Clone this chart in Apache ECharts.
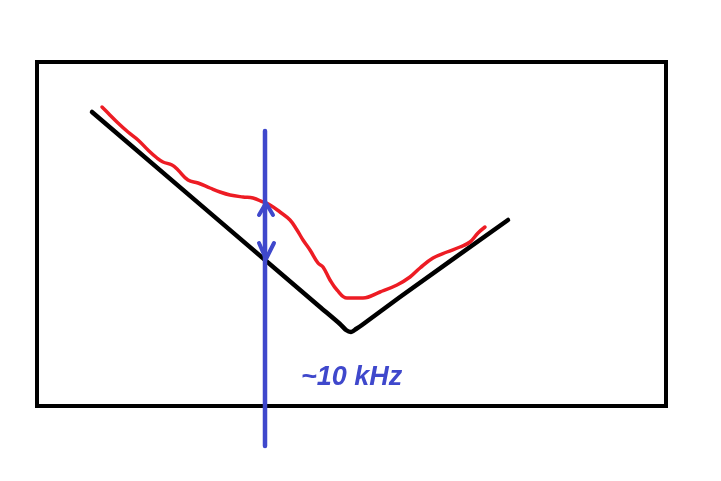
<!DOCTYPE html>
<html>
<head>
<meta charset="utf-8">
<script src="https://cdn.jsdelivr.net/npm/echarts@6/dist/echarts.min.js"></script>
<style>html,body{margin:0;padding:0;background:#fff;}#c{width:721px;height:481px;}</style>
</head>
<body>
<div id="c"></div>
<script>
// Sketch coordinates (x to the right, y downward)
const blackLine = [[92,112],[320,307],[340,324],[346,330],[351,332],[356,329],[362,325],[400,297],[508,220]];
const redLine = [[102,107],[108,113],[118,123],[128,132],[138,140],[148,150],[157,158],[163,162],[172,165],[178,170],[188,180],[198,183],[210,188],[220,192],[230,195],[243,197],[253,198],[263,202],[270,205],[280,212],[290,220],[297,230],[303,240],[310,250],[318,263],[323,267],[330,280],[337,290],[347,298],[363,298],[380,292],[397,285],[410,277],[420,268],[433,258],[447,252],[460,247],[470,242],[478,233],[485,227]];
const markerLine = [[265,131],[265,446]];
const arrowUp = [[259,215],[266,203],[273,215]];
const arrowDown = [[259,243],[266,259],[274,243]];
const labelText = '~10 kHz';

const chart = echarts.init(document.getElementById('c'), null, {renderer:'canvas'});
const lineSeries = (data, color, width, smooth) => ({
  type:'line', data, symbol:'none', smooth, clip:false, silent:true, animation:false,
  lineStyle:{color, width, cap:'round', join:'round'}
});
chart.setOption({
  backgroundColor:'#ffffff',
  animation:false,
  grid:{left:37, top:62, width:629, height:344, show:true, borderColor:'#000000', borderWidth:4, backgroundColor:'transparent'},
  xAxis:{type:'value', min:37, max:666, show:false},
  yAxis:{type:'value', min:62, max:406, inverse:true, show:false},
  series:[
    lineSeries(blackLine, '#000000', 4.5, 0.2),
    lineSeries(redLine, '#ed1c24', 3.5, 0.4),
    lineSeries(markerLine, '#3f48cc', 4.5, false),
    lineSeries(arrowUp, '#3f48cc', 4, false),
    lineSeries(arrowDown, '#3f48cc', 4, false)
  ],
  graphic:[{
    type:'text', left:301, top:364,
    style:{text:labelText, fill:'#3f48cc', font:'italic bold 27px "Liberation Sans", sans-serif'}
  }]
});
</script>
</body>
</html>
